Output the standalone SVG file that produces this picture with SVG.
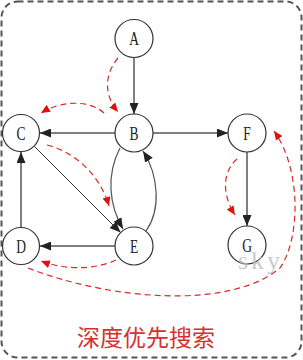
<svg xmlns="http://www.w3.org/2000/svg" width="303" height="360" viewBox="0 0 303 360">
<style>
.node circle{fill:#fff;stroke:#333;stroke-width:1.2}
.node text{font-family:"Liberation Serif",serif;font-size:18px;fill:#222;text-anchor:middle}
.e{fill:none;stroke:#555;stroke-width:1.5;marker-end:url(#ab)}
.t{fill:none;stroke:#d42a2a;stroke-width:1.2;stroke-dasharray:6,4;marker-end:url(#ar)}
</style>
<defs>
<marker id="ab" markerUnits="userSpaceOnUse" markerWidth="11" markerHeight="9" refX="11" refY="4.5" orient="auto"><path d="M0,0 L11,4.5 L0,9 z" fill="#222"/></marker>
<marker id="ar" markerUnits="userSpaceOnUse" markerWidth="9" markerHeight="8" refX="9" refY="4" orient="auto"><path d="M0,0 L9,4 L0,8 z" fill="#e01010"/></marker>
</defs>
<rect x="1.5" y="1.5" width="300" height="356" rx="16" fill="#fff" stroke="#555" stroke-width="2" stroke-dasharray="6,4"/>
<g id="connectors">
<path class="e" d="M134,57.5 L134,114"/>
<path class="e" d="M115,133 L40,133"/>
<path class="e" d="M153,133 L228,133"/>
<path class="e" d="M247,152 L247,226"/>
<path class="e" d="M115,246 L40,246"/>
<path class="e" d="M21,227 L21,152"/>
<path class="e" style="stroke-width:1;stroke:#333" d="M34.4,146.4 L120.6,232.6"/>
<path class="e" style="stroke-width:1.2" d="M120,148 C106,175 109,205 123,229"/>
<path class="e" style="stroke-width:1.2" d="M146,231 C161,210 159,176 143,151"/>
<path class="t" d="M118,58 C104,75 104,95 118,112"/>
<path class="t" d="M104,113 C90,100 62,100 41,113"/>
<path class="t" d="M47,145 C75,152 100,175 109,206"/>
<path class="t" d="M116,260 C95,270 65,270 41,261"/>
<path class="t" d="M28,268 C110,300 230,310 280,268 C300,240 302,170 274,131"/>
<path class="t" d="M237,159 C222,172 222,195 235,215"/>
</g>
<g id="A" class="node"><circle cx="134" cy="38.5" r="19"/><text transform="translate(134,45) scale(0.75,1)">A</text></g>
<g id="B" class="node"><circle cx="134" cy="133" r="19"/><text transform="translate(134,139.5) scale(0.75,1)">B</text></g>
<g id="C" class="node"><circle cx="21" cy="133" r="18.5"/><text transform="translate(21,139.5) scale(0.75,1)">C</text></g>
<g id="F" class="node"><circle cx="247" cy="133" r="19"/><text transform="translate(247,139.5) scale(0.75,1)">F</text></g>
<g id="D" class="node"><circle cx="21" cy="246" r="18.5"/><text transform="translate(21,252.5) scale(0.75,1)">D</text></g>
<g id="E" class="node"><circle cx="134" cy="246" r="19"/><text transform="translate(134,252.5) scale(0.75,1)">E</text></g>
<g id="G" class="node"><circle cx="247" cy="245" r="19"/><text transform="translate(247,251.5) scale(0.75,1)">G</text></g>
<text x="238" y="269" font-family="Liberation Serif,serif" font-size="26" fill="#bbb" fill-opacity="0.8" letter-spacing="3">sky</text>
<text x="146" y="346" font-family="Noto Sans CJK SC,sans-serif" font-size="23" fill="#d63030" text-anchor="middle">深度优先搜索</text>
</svg>
